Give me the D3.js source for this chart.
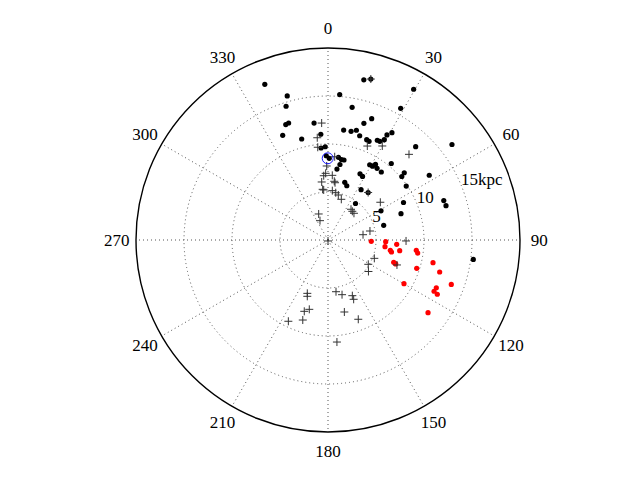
<!DOCTYPE html>
<html>
<head>
<meta charset="utf-8">
<script src="https://cdn.jsdelivr.net/npm/d3@7"></script>
<style>
  html, body { margin: 0; padding: 0; background: #fff; }
  svg { display: block; }
  text { font-family: "Liberation Serif", "DejaVu Serif", serif; fill: #000; }
</style>
</head>
<body>
<svg id="chart" width="640" height="480"></svg>
<script>
// Longitude (deg, clockwise from north) and distance (kpc)
const blackTheta = [337.9, 12.6, 14.9, 344.2, 4.6, 29.6, 342.6, 10.3, 28.9, 339.9,
  341.4, 353.2, 17.1, 19.8, 336.6, 345.4, 356.1, 8.1, 12.0, 14.5,
  16.9, 21.1, 22.6, 26.3, 27.7, 29.3, 29.3, 30.8, 43.2, 52.4,
  355.7, 358.3, 358.8, 0.9, 7.2, 9.5, 11.3, 9.0, 7.2, 29.0,
  31.1, 32.1, 34.4, 38.1, 39.6, 48.6, 49.3, 57.4, 25.8, 28.5,
  16.2, 19.1, 55.4, 33.3, 40.2, 37.0, 63.6, 71.2, 73.8, 61.2,
  70.2, 75.2, 97.6];
const blackR = [17.5, 17.1, 17.35, 15.6, 15.2, 18.06, 14.6, 14.05, 15.67, 12.8,
  12.86, 12.27, 12.72, 13.43, 11.88, 10.87, 11.04, 11.57, 11.57, 11.81,
  11.35, 11.2, 11.13, 11.59, 11.61, 11.98, 12.55, 13.01, 13.34, 16.3,
  9.61, 9.72, 8.78, 8.51, 8.68, 8.5, 8.5, 7.96, 7.45, 8.96,
  8.98, 9.31, 9.05, 9.0, 10.34, 10.59, 10.14, 12.52, 7.66, 7.54,
  6.26, 5.98, 9.9, 6.27, 6.48, 4.76, 8.78, 12.74, 12.8, 6.3,
  8.08, 6.0, 15.27];

const redTheta = [91.7, 91.7, 96.7, 93.6, 99.4, 100.7, 98.5, 96.7, 98.3, 108.8,
  109.5, 107.7, 102.2, 106.0, 119.9, 109.8, 113.8, 115.8, 116.4, 126.0];
const redR = [4.51, 6.01, 5.98, 7.17, 6.58, 6.73, 7.55, 9.26, 9.44, 7.23,
  7.48, 9.7, 11.19, 12.1, 9.13, 13.65, 12.33, 12.27, 12.71, 12.88];

const crossTheta = [14.9, 356.9, 354.0, 353.7, 22.7, 30.0, 43.4, 4.6, 359.0, 358.0,
  356.2, 3.8, 6.1, 7.0, 353.8, 354.0, 355.1, 5.0, 9.3, 12.9,
  18.1, 40.2, 36.8, 40.3, 44.2, 340.3, 337.5, 54.2, 77.9, 81.4,
  180.0, 90.7, 111.6, 121.1, 127.9, 109.9, 201.2, 200.2, 171.2, 165.6,
  156.4, 156.6, 198.4, 195.1, 167.2, 206.0, 197.5, 159.1, 175.0];
const crossR = [17.35, 12.2, 10.71, 9.72, 10.61, 11.31, 12.28, 8.7, 7.71, 6.95,
  6.71, 6.75, 6.15, 6.01, 6.08, 5.31, 5.23, 5.16, 4.99, 4.81,
  4.46, 6.48, 4.0, 3.92, 3.88, 2.88, 2.18, 6.72, 4.47, 3.69,
  0.1, 8.13, 5.19, 4.9, 5.34, 7.64, 5.96, 6.25, 5.45, 5.88,
  6.33, 6.73, 7.83, 7.48, 7.69, 9.42, 8.74, 8.84, 10.67];

const circledTheta = [359.8];
const circledR = [8.51];

const angleTicks = [0, 30, 60, 90, 120, 150, 180, 210, 240, 270, 300, 330];
const ringTicks = [5, 10, 15];
const ringLabels = ["5", "10", "15kpc"];
const rMax = 20;

const svg = d3.select("#chart");
const cx = 328, cy = 240, R = 192;
const r = d3.scaleLinear().domain([0, rMax]).range([0, R]);
const ang = d3.scaleLinear().domain([0, 360]).range([0, 2 * Math.PI]);
const g = svg.append("g").attr("transform", `translate(${cx},${cy})`);
const pt = (t, d) => d3.pointRadial(ang(t), r(d));

// grid rings
g.selectAll("circle.ring").data(ringTicks).join("circle")
  .attr("class", "ring").attr("r", d => r(d))
  .attr("fill", "none").attr("stroke", "#555").attr("stroke-width", 1)
  .attr("stroke-dasharray", "1,3");

// spokes
g.selectAll("line.spoke").data(angleTicks).join("line")
  .attr("class", "spoke")
  .attr("x1", 0).attr("y1", 0)
  .attr("x2", d => pt(d, rMax)[0]).attr("y2", d => pt(d, rMax)[1])
  .attr("stroke", "#555").attr("stroke-width", 1)
  .attr("stroke-dasharray", "1,3");

// outer circle
g.append("circle").attr("r", r(rMax)).attr("fill", "none")
  .attr("stroke", "#000").attr("stroke-width", 1.4);

// angle labels
g.selectAll("text.ang").data(angleTicks).join("text")
  .attr("class", "ang")
  .attr("x", d => d3.pointRadial(ang(d), R * 1.1)[0])
  .attr("y", d => d3.pointRadial(ang(d), R * 1.1)[1])
  .attr("text-anchor", "middle").attr("dominant-baseline", "central")
  .attr("font-size", 17).text(d => d);

// radial labels at 67.5 deg
g.selectAll("text.rl").data(ringTicks).join("text")
  .attr("class", "rl")
  .attr("x", d => pt(67.5, d)[0])
  .attr("y", d => pt(67.5, d)[1])
  .attr("text-anchor", "start")
  .attr("font-size", 17).text((d, i) => ringLabels[i]);

// black dots
const blackData = blackTheta.map((t, i) => [t, blackR[i]]);
g.selectAll("circle.blk").data(blackData).join("circle")
  .attr("class", "blk")
  .attr("cx", d => pt(d[0], d[1])[0]).attr("cy", d => pt(d[0], d[1])[1])
  .attr("r", 2.6).attr("fill", "#000");

// red dots
const redData = redTheta.map((t, i) => [t, redR[i]]);
g.selectAll("circle.red").data(redData).join("circle")
  .attr("class", "red")
  .attr("cx", d => pt(d[0], d[1])[0]).attr("cy", d => pt(d[0], d[1])[1])
  .attr("r", 2.6).attr("fill", "#ff0000");

// crosses
const crossData = crossTheta.map((t, i) => [t, crossR[i]]);
g.selectAll("path.cr").data(crossData).join("path")
  .attr("class", "cr")
  .attr("transform", d => `translate(${pt(d[0], d[1])[0]},${pt(d[0], d[1])[1]})`)
  .attr("d", "M-4,0H4M0,-4V4")
  .attr("stroke", "#333").attr("stroke-width", 1).attr("fill", "none");

// circled marker
const circData = circledTheta.map((t, i) => [t, circledR[i]]);
g.selectAll("circle.circ").data(circData).join("circle")
  .attr("class", "circ")
  .attr("cx", d => pt(d[0], d[1])[0]).attr("cy", d => pt(d[0], d[1])[1])
  .attr("r", 5.5).attr("fill", "none").attr("stroke", "#0000ff").attr("stroke-width", 0.9);
</script>
</body>
</html>
